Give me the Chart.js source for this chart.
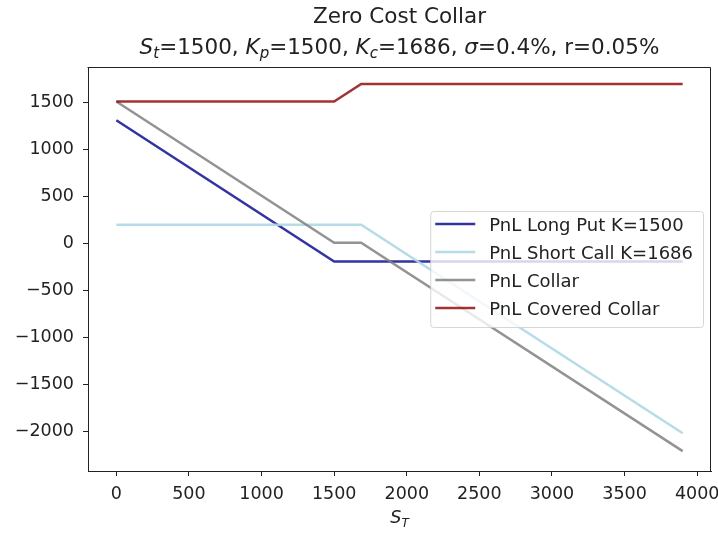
<!DOCTYPE html>
<html>
<head>
<meta charset="utf-8">
<script src="https://cdn.jsdelivr.net/npm/chart.js@4.4.1/dist/chart.umd.min.js"></script>
<style>
  html, body { margin: 0; padding: 0; background: #fff; }
  #wrap { width: 718px; height: 535px; }
</style>
</head>
<body>
<div id="wrap"><canvas id="chart" width="718" height="535"></canvas></div>
<script>
// Underlying price at expiry (S_T) and PnL of each leg
const sT = [0, 1500, 1686, 3900];
const longPut = [1310, -190, -190, -190];
const shortCall = [200, 200, 200, -2014];
const collar = [1510, 10, 10, -2204];
const coveredCollar = [1510, 1510, 1696, 1696];

const seriesLabels = [
  "PnL Long Put K=1500",
  "PnL Short Call K=1686",
  "PnL Collar",
  "PnL Covered Collar",
];
const seriesColors = [
  "rgba(0, 0, 139, 0.8)",
  "rgba(173, 216, 230, 0.9)",
  "rgba(128, 128, 128, 0.85)",
  "rgba(139, 0, 0, 0.8)",
];
const seriesValues = [longPut, shortCall, collar, coveredCollar];

const xTickValues = [0, 500, 1000, 1500, 2000, 2500, 3000, 3500, 4000];
const yTickValues = [-2000, -1500, -1000, -500, 0, 500, 1000, 1500];

const FONT = '"DejaVu Sans", sans-serif';
const INK = "#222";

// draw a line of matplotlib-like mathtext: normal, italic and subscript pieces
function drawMath(ctx, parts, cx, cy, size) {
  const fontFor = (f) => {
    if (f === "n") return `${size}px ${FONT}`;
    if (f === "i") return `italic ${size}px ${FONT}`;
    return `italic ${Math.round(size * 0.7)}px ${FONT}`;
  };
  let total = 0;
  for (const p of parts) {
    ctx.font = fontFor(p.f);
    total += ctx.measureText(p.t).width;
  }
  let x = cx - total / 2;
  ctx.textAlign = "left";
  ctx.textBaseline = "alphabetic";
  const base = cy + size * 0.36;
  for (const p of parts) {
    ctx.font = fontFor(p.f);
    const dy = p.f === "s" ? size * 0.22 : 0;
    ctx.fillText(p.t, x, base + dy);
    x += ctx.measureText(p.t).width;
  }
}

const decorations = {
  id: "decorations",
  afterDatasetsDraw(chart) {
    // legend, "center right" like matplotlib, drawn over the lines
    const ctx = chart.ctx;
    const a = chart.chartArea;
    ctx.save();
    ctx.font = `18px ${FONT}`;
    let maxW = 0;
    for (const label of seriesLabels) {
      maxW = Math.max(maxW, ctx.measureText(label).width);
    }
    const rowH = 28;
    const boxW = 5 + 40 + 14 + maxW + 10;
    const boxH = 116;
    const boxRight = a.right - 8;
    const boxLeft = boxRight - boxW;
    const boxTop = (a.top + a.bottom) / 2 - boxH / 2;

    ctx.beginPath();
    ctx.roundRect(boxLeft + 0.5, boxTop + 0.5, boxW, boxH, 3);
    ctx.fillStyle = "rgba(255, 255, 255, 0.8)";
    ctx.fill();
    ctx.strokeStyle = "rgba(204, 204, 204, 0.8)";
    ctx.lineWidth = 1;
    ctx.stroke();

    seriesLabels.forEach((label, i) => {
      const y = boxTop + 13 + i * rowH;
      ctx.beginPath();
      ctx.moveTo(boxLeft + 5, y);
      ctx.lineTo(boxLeft + 45, y);
      ctx.strokeStyle = seriesColors[i];
      ctx.lineWidth = 2.5;
      ctx.stroke();
      ctx.fillStyle = INK;
      ctx.textAlign = "left";
      ctx.textBaseline = "middle";
      ctx.fillText(label, boxLeft + 59, y + 2);
    });
    ctx.restore();
  },
  afterDraw(chart) {
    const ctx = chart.ctx;
    const a = chart.chartArea;
    ctx.save();
    // remaining spines (top and right)
    ctx.strokeStyle = INK;
    ctx.lineWidth = 1;
    ctx.beginPath();
    ctx.moveTo(Math.round(a.left) - 0.5, Math.round(a.top) + 0.5);
    ctx.lineTo(Math.round(a.right) - 0.5, Math.round(a.top) + 0.5);
    ctx.lineTo(Math.round(a.right) - 0.5, Math.round(a.bottom));
    ctx.stroke();

    const cx = (a.left + a.right) / 2;
    ctx.fillStyle = INK;
    ctx.font = `21.5px ${FONT}`;
    ctx.textAlign = "center";
    ctx.textBaseline = "middle";
    ctx.fillText("Zero Cost Collar", cx, 17);

    drawMath(ctx, [
      { t: "S", f: "i" }, { t: "t", f: "s" }, { t: "=1500, ", f: "n" },
      { t: "K", f: "i" }, { t: "p", f: "s" }, { t: "=1500, ", f: "n" },
      { t: "K", f: "i" }, { t: "c", f: "s" }, { t: "=1686, ", f: "n" },
      { t: "σ", f: "i" }, { t: "=0.4%, r=0.05%", f: "n" },
    ], cx, 46, 21.5);

    drawMath(ctx, [{ t: "S", f: "i" }, { t: "T", f: "s" }], cx, 517, 17.5);
    ctx.restore();
  },
};

const datasets = seriesValues.map((values, i) => ({
  label: seriesLabels[i],
  data: sT.map((x, j) => ({ x: x, y: values[j] })),
  borderColor: seriesColors[i],
  borderWidth: 2.5,
  pointRadius: 0,
  tension: 0,
  fill: false,
  order: seriesValues.length - i,
}));

const ctx = document.getElementById("chart").getContext("2d");
new Chart(ctx, {
  type: "line",
  data: { datasets: datasets },
  options: {
    animation: false,
    responsive: false,
    maintainAspectRatio: false,
    layout: { padding: { left: 0, top: 67, right: 7, bottom: 0 } },
    plugins: {
      legend: { display: false },
      title: { display: false },
      tooltip: { enabled: false },
    },
    scales: {
      x: {
        type: "linear",
        min: -195,
        max: 4095,
        afterBuildTicks: (scale) => {
          scale.ticks = xTickValues.map((v) => ({ value: v }));
        },
        afterFit: (scale) => {
          scale.height = 64;
          scale.paddingLeft = 0;
          scale.paddingRight = 0;
        },
        grid: {
          drawOnChartArea: false,
          drawTicks: true,
          tickLength: 5,
          tickColor: INK,
        },
        border: { display: true, color: INK, width: 1 },
        ticks: {
          autoSkip: false,
          maxRotation: 0,
          padding: 8,
          color: INK,
          font: { family: FONT, size: 17.5 },
          callback: (v) => String(v),
        },
      },
      y: {
        type: "linear",
        min: -2415,
        max: 1876,
        afterBuildTicks: (scale) => {
          scale.ticks = yTickValues.map((v) => ({ value: v }));
        },
        afterFit: (scale) => {
          scale.width = 88;
          scale.paddingTop = 0;
          scale.paddingBottom = 0;
        },
        grid: {
          drawOnChartArea: false,
          drawTicks: true,
          tickLength: 5,
          tickColor: INK,
        },
        border: { display: true, color: INK, width: 1 },
        ticks: {
          autoSkip: false,
          padding: 9,
          color: INK,
          font: { family: FONT, size: 17.5 },
          callback: (v) => (v < 0 ? "\u2212" + Math.abs(v) : String(v)),
        },
      },
    },
  },
  plugins: [decorations],
});
</script>
</body>
</html>
